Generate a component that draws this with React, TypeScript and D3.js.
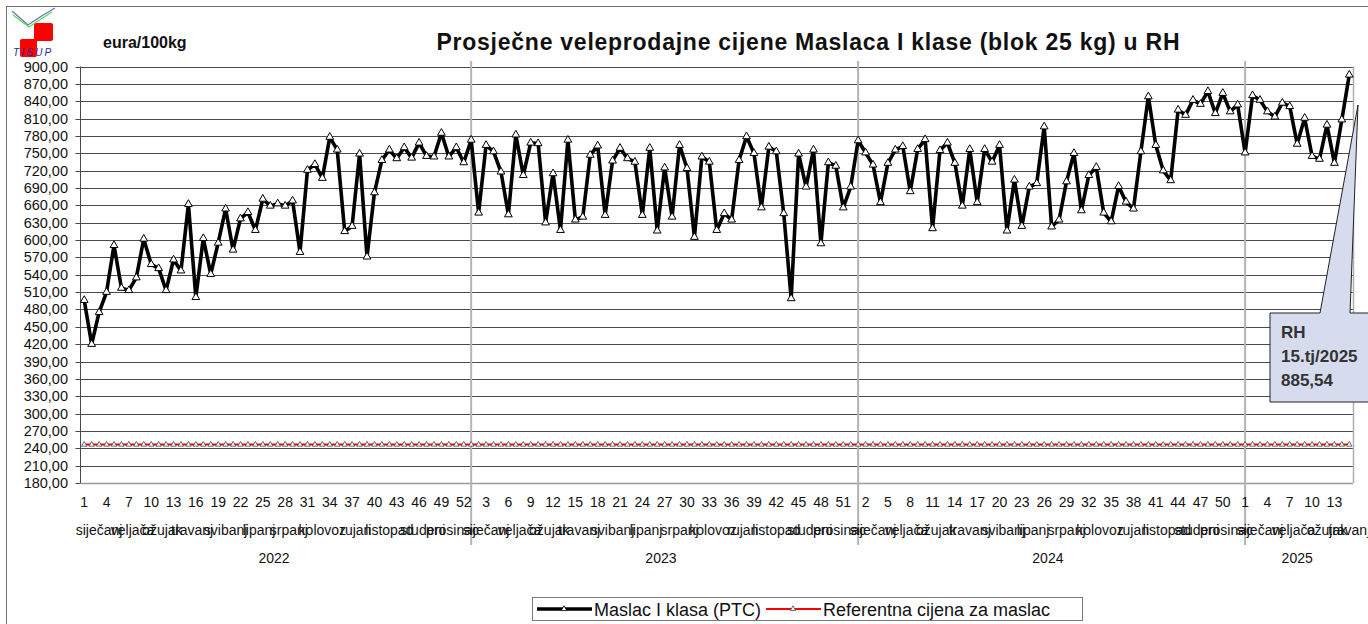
import React from 'react'
import * as d3 from 'd3'

// categories
const years = ['2022', '2023', '2024', '2025']
const weeksPerYear = [52, 52, 52, 15]
const monthNames = ['siječanj', 'veljača', 'ožujak', 'travanj', 'svibanj', 'lipanj', 'srpanj', 'kolovoz', 'rujan', 'listopad', 'studeni', 'prosinac']
// number of weeks falling in each month, per year
const monthWeeks = [
  [5, 4, 4, 4, 5, 4, 4, 5, 4, 5, 4, 4],
  [5, 4, 4, 4, 5, 4, 5, 4, 4, 5, 4, 4],
  [5, 4, 4, 5, 4, 4, 5, 4, 5, 4, 4, 4],
  [5, 4, 5, 1],
]

// Maslac I klasa (PTC), eura/100kg, weekly
const butter2022 = [496, 420, 475, 510, 591, 517, 513, 535, 602, 558, 551, 513, 566, 547, 662, 501, 603, 541, 595, 654, 583, 637, 648, 617, 671, 659, 663, 659, 668, 579, 721, 731, 707, 778, 756, 615, 624, 749, 571, 682, 738, 756, 741, 760, 742, 768, 745, 744, 785, 744, 760, 734]
const butter2023 = [773, 647, 764, 753, 718, 644, 782, 712, 768, 767, 630, 715, 617, 773, 635, 640, 747, 763, 643, 737, 759, 741, 735, 643, 759, 616, 725, 640, 764, 724, 605, 744, 735, 617, 646, 635, 738, 779, 750, 656, 761, 753, 646, 499, 749, 692, 756, 594, 734, 728, 656, 692]
const butter2024 = [772, 751, 730, 665, 733, 756, 762, 684, 757, 774, 620, 755, 768, 733, 659, 757, 665, 757, 735, 764, 616, 704, 624, 692, 698, 796, 623, 635, 701, 750, 651, 712, 726, 647, 632, 693, 666, 654, 753, 848, 764, 720, 703, 825, 816, 842, 835, 857, 819, 854, 822, 834]
const butter2025 = [751, 850, 842, 822, 813, 837, 831, 766, 811, 745, 740, 799, 733, 808, 885.54]
// Referentna cijena za maslac
const refPrice = 246.39

const yTicks = [180, 210, 240, 270, 300, 330, 360, 390, 420, 450, 480, 510, 540, 570, 600, 630, 660, 690, 720, 750, 780, 810, 840, 870, 900]

const FONT = '"Liberation Sans", Arial, sans-serif'

export default function App() {
  const W = 1368, H = 624
  const left = 80.5, right = 1353, top = 66.5, bottom = 483

  const series = [butter2022, butter2023, butter2024, butter2025]
  const pts = []
  series.forEach((arr, yi) => {
    arr.forEach((v, wi) => pts.push({ i: pts.length, year: yi, week: wi + 1, v }))
  })
  const n = pts.length

  const x = d3.scaleBand<number>().domain(d3.range(n)).range([left, right])
  const cx = (i) => x(i) + x.bandwidth() / 2
  const y = d3.scaleLinear().domain([180, 900]).range([bottom, top])

  const line = d3.line<any>().x(d => cx(d.i)).y(d => y(d.v))
  const refLine = d3.line<any>().x(d => cx(d.i)).y(() => y(refPrice))
  const tri = d3.symbol().type(d3.symbolTriangle).size(26)()
  const triSmall = d3.symbol().type(d3.symbolTriangle).size(13)()
  const fmt = (v) => d3.format('.2f')(v).replace('.', ',')

  // year start indices
  const yearStart = []
  let acc = 0
  weeksPerYear.forEach(w => { yearStart.push(acc); acc += w })

  // month label positions
  const monthLabels = []
  monthWeeks.forEach((mw, yi) => {
    let s = yearStart[yi]
    mw.forEach((cnt, mi) => {
      const e = s + cnt - 1
      monthLabels.push({ name: monthNames[mi], x: (cx(s) + cx(e)) / 2 })
      s += cnt
    })
  })

  const last = butter2025[butter2025.length - 1]

  return (
    <svg width={W} height={H} style={{ position: 'absolute', left: 0, top: 0, display: 'block', background: '#fff' }} fontFamily={FONT}>
      {/* outer border */}
      <rect x={6.5} y={6.5} width={1400} height={700} fill="none" stroke="#6f6f6f" strokeWidth={1} />

      {/* logo */}
      <g>
        <rect x={34} y={23} width={19} height={18} rx={2} fill="#ff0000" />
        <rect x={20} y={39} width={17} height={18} rx={2} fill="#ff0000" />
        <polyline points="12,11 20,18 28,25 40,17 55,8" fill="none" stroke="#6f6fc0" strokeWidth={1.3} />
        <polyline points="13,15 21,21 29,27 41,19 52,12" fill="none" stroke="#55dd55" strokeWidth={1.3} />
        <text x={13} y={56} fontSize={10} fontStyle="italic" fill="#2a2a9a" letterSpacing={2.2}>TISUP</text>
      </g>

      <text x={103} y={48} fontSize={16} fontWeight="bold" fill="#111">eura/100kg</text>
      <text x={808} y={50} fontSize={23} fontWeight="bold" textAnchor="middle" fill="#111" textLength={743} lengthAdjust="spacing">
        Prosječne veleprodajne cijene Maslaca I klase (blok 25 kg) u RH
      </text>

      {/* grid + y axis */}
      {yTicks.map(t => (
        <g key={t}>
          <line x1={left} x2={right} y1={Math.round(y(t)) + 0.5} y2={Math.round(y(t)) + 0.5}
            stroke={t === 180 ? '#9a9a9a' : '#4a4a4a'} strokeWidth={t === 180 ? 1.5 : 1} />
          <line x1={left - 5} x2={left} y1={Math.round(y(t)) + 0.5} y2={Math.round(y(t)) + 0.5} stroke="#4a4a4a" />
          <text x={68} y={y(t) + 5} fontSize={14.5} textAnchor="end" fill="#111">{fmt(t)}</text>
        </g>
      ))}
      <line x1={left} x2={left} y1={top} y2={bottom} stroke="#4a4a4a" />
      <line x1={right + 0.5} x2={right + 0.5} y1={top} y2={bottom} stroke="#b0b0b0" strokeWidth={1.5} />

      {/* year dividers */}
      {yearStart.slice(1).map(s => (
        <line key={s} x1={cx(s)} x2={cx(s)} y1={61} y2={545} stroke="#b4b4b4" strokeWidth={2} />
      ))}

      {/* week labels */}
      {pts.filter(p => p.i % 3 === 0).map(p => (
        <text key={p.i} x={cx(p.i)} y={507} fontSize={14} textAnchor="middle" fill="#111">{p.week}</text>
      ))}
      {monthLabels.map((m, k) => (
        <text key={k} x={m.x} y={535} fontSize={14} textAnchor="middle" fill="#111">{m.name}</text>
      ))}
      {years.map((yr, yi) => {
        const s = yearStart[yi], e = s + weeksPerYear[yi] - 1
        return <text key={yr} x={(x(s) + x(e) + x.bandwidth()) / 2} y={563} fontSize={14} textAnchor="middle" fill="#111">{yr}</text>
      })}

      {/* reference line */}
      <path d={refLine(pts)} fill="none" stroke="#ff0000" strokeWidth={2} />
      {pts.map(p => (
        <path key={'r' + p.i} d={triSmall} transform={`translate(${cx(p.i)},${y(refPrice)})`} fill="#fff" stroke="#444" strokeWidth={0.8} />
      ))}

      {/* butter line */}
      <path d={line(pts)} fill="none" stroke="#000" strokeWidth={3.6} strokeLinejoin="round" />
      {pts.map(p => (
        <path key={'b' + p.i} d={tri} transform={`translate(${cx(p.i)},${y(p.v)})`} fill="#fff" stroke="#000" strokeWidth={1} />
      ))}

      {/* callout */}
      <path d="M1270,313 L1320,313 L1358,105 L1350,313 L1375,313 L1375,402 L1270,402 Z" fill="#d6dcee" stroke="#222" strokeWidth={1} />
      <text x={1281} y={338} fontSize={17} fontWeight="bold" fill="#333">RH</text>
      <text x={1281} y={362} fontSize={17} fontWeight="bold" fill="#333">15.tj/2025</text>
      <text x={1281} y={386} fontSize={17} fontWeight="bold" fill="#333">{fmt(last)}</text>

      {/* legend */}
      <rect x={532.5} y={597.5} width={550} height={23} fill="#fff" stroke="#7a7a7a" />
      <line x1={537} x2={592} y1={609} y2={609} stroke="#000" strokeWidth={3.6} />
      <path d={d3.symbol().type(d3.symbolTriangle).size(14)()} transform="translate(564,609)" fill="#fff" stroke="#000" strokeWidth={0.8} />
      <text x={594} y={615.5} fontSize={18} fill="#111">Maslac I klasa (PTC)</text>
      <line x1={766} x2={821} y1={609} y2={609} stroke="#ff0000" strokeWidth={2} />
      <path d={triSmall} transform="translate(793,609)" fill="#fff" stroke="#444" strokeWidth={0.8} />
      <text x={823} y={615.5} fontSize={18} fill="#111">Referentna cijena za maslac</text>
    </svg>
  )
}
